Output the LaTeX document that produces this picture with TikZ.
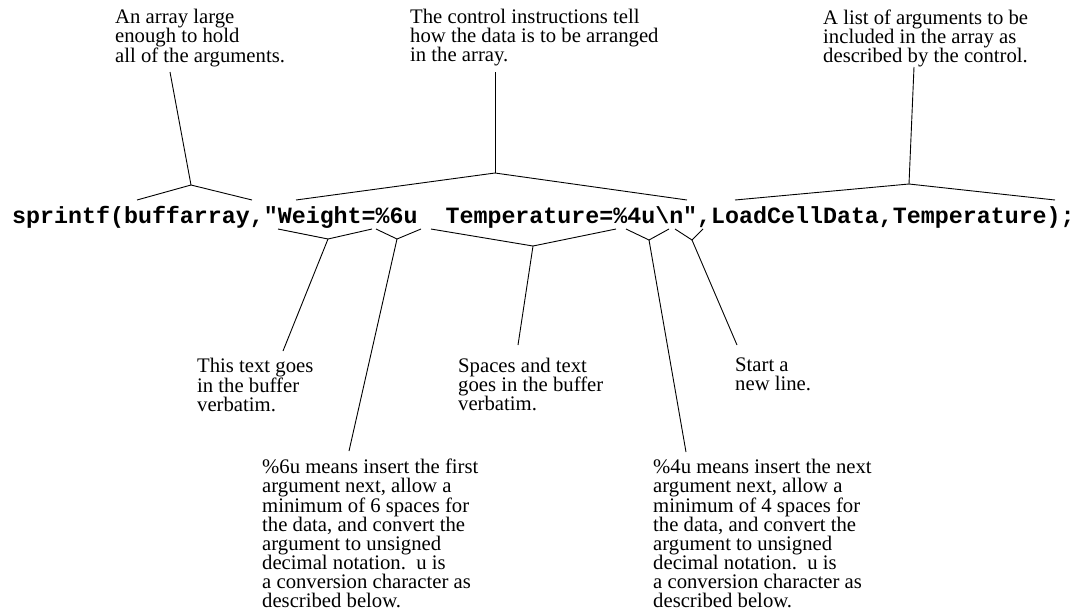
\documentclass[tikz,border=0pt]{standalone}
\usepackage{fontspec}
\setmainfont{Liberation Serif}
\setmonofont{Liberation Mono}
\usetikzlibrary{positioning}

\begin{document}
\begin{tikzpicture}[x=1pt, y=-1pt,
  note/.style={inner sep=0pt, anchor=north west, align=left, font=\fontsize{20.7}{19}\selectfont},
  code/.style={inner sep=0pt, anchor=base west, font=\fontsize{23.3}{26}\selectfont\ttfamily\bfseries},
  brace/.style={line width=0.9pt},
  lead/.style={line width=0.9pt}]
  \useasboundingbox (0,0) rectangle (1086,614);

  % the statement itself
  \node[code] (stmt) at (12,223) {sprintf(buffarray,"Weight=\%6u\ \ Temperature=\%4u\textbackslash n",LoadCellData,Temperature);};

  % notes above
  \node[note] (arrayNote) at (115,9.3) {An array large\\enough to hold\\all of the arguments.};
  \node[note] (controlNote) at (410,9.3) {The control instructions tell\\how the data is to be arranged\\in the array.};
  \node[note] (argsNote) at (823,9.3) {A list of arguments to be\\included in the array as\\described by the control.};

  % notes below
  \node[note] (verbNote) at (197,357.8) {This text goes\\in the buffer\\verbatim.};
  \node[note] (spaceNote) at (458,357.8) {Spaces and text\\goes in the buffer\\verbatim.};
  \node[note] (lineNote) at (735,357.8) {Start a\\new line.};
  \node[note] (sixNote) at (262,458.8) {\%6u means insert the first\\argument next, allow a\\minimum of 6 spaces for\\the data, and convert the\\argument to unsigned\\decimal notation.\ \ u is\\a conversion character as\\described below.};
  \node[note] (fourNote) at (653,458.8) {\%4u means insert the next\\argument next, allow a\\minimum of 4 spaces for\\the data, and convert the\\argument to unsigned\\decimal notation.\ \ u is\\a conversion character as\\described below.};

  % brace points above the statement
  \coordinate (bufL) at (137,200);   \coordinate (bufTip) at (191,185);  \coordinate (bufR) at (252,200);
  \coordinate (ctlL) at (296,200);   \coordinate (ctlTip) at (495,173);  \coordinate (ctlR) at (687,200);
  \coordinate (argL) at (735,200);   \coordinate (argTip) at (909,184);  \coordinate (argR) at (1055,200);
  % brace points below the statement
  \coordinate (wgtL) at (278,229);   \coordinate (wgtTip) at (328,239);  \coordinate (wgtR) at (372,229);
  \coordinate (sixL) at (376,229);   \coordinate (sixTip) at (397,239);  \coordinate (sixR) at (421,229);
  \coordinate (tmpL) at (431,229);   \coordinate (tmpTip) at (533,246);  \coordinate (tmpR) at (616,229);
  \coordinate (fourL) at (626,229);  \coordinate (fourTip) at (649,240); \coordinate (fourR) at (669,229);
  \coordinate (nlL) at (675,229);    \coordinate (nlTip) at (692,240);   \coordinate (nlR) at (703,229);
  % free ends of the leads
  \coordinate (arrayEnd) at (170,72);
  \coordinate (controlEnd) at (495,72);
  \coordinate (argsEnd) at (914,67);
  \coordinate (verbEnd) at (283,351);
  \coordinate (sixEnd) at (349,451);
  \coordinate (spaceEnd) at (518,345);
  \coordinate (fourEnd) at (686,452);
  \coordinate (lineEnd) at (737,345);

  \draw[brace] (bufL) -- (bufTip) -- (bufR);
  \draw[brace] (ctlL) -- (ctlTip) -- (ctlR);
  \draw[brace] (argL) -- (argTip) -- (argR);
  \draw[brace] (wgtL) -- (wgtTip) -- (wgtR);
  \draw[brace] (sixL) -- (sixTip) -- (sixR);
  \draw[brace] (tmpL) -- (tmpTip) -- (tmpR);
  \draw[brace] (fourL) -- (fourTip) -- (fourR);
  \draw[brace] (nlL) -- (nlTip) -- (nlR);

  \draw[lead] (bufTip) -- (arrayEnd);
  \draw[lead] (ctlTip) -- (controlEnd);
  \draw[lead] (argTip) -- (argsEnd);
  \draw[lead] (wgtTip) -- (verbEnd);
  \draw[lead] (sixTip) -- (sixEnd);
  \draw[lead] (tmpTip) -- (spaceEnd);
  \draw[lead] (fourTip) -- (fourEnd);
  \draw[lead] (nlTip) -- (lineEnd);
\end{tikzpicture}
\end{document}
